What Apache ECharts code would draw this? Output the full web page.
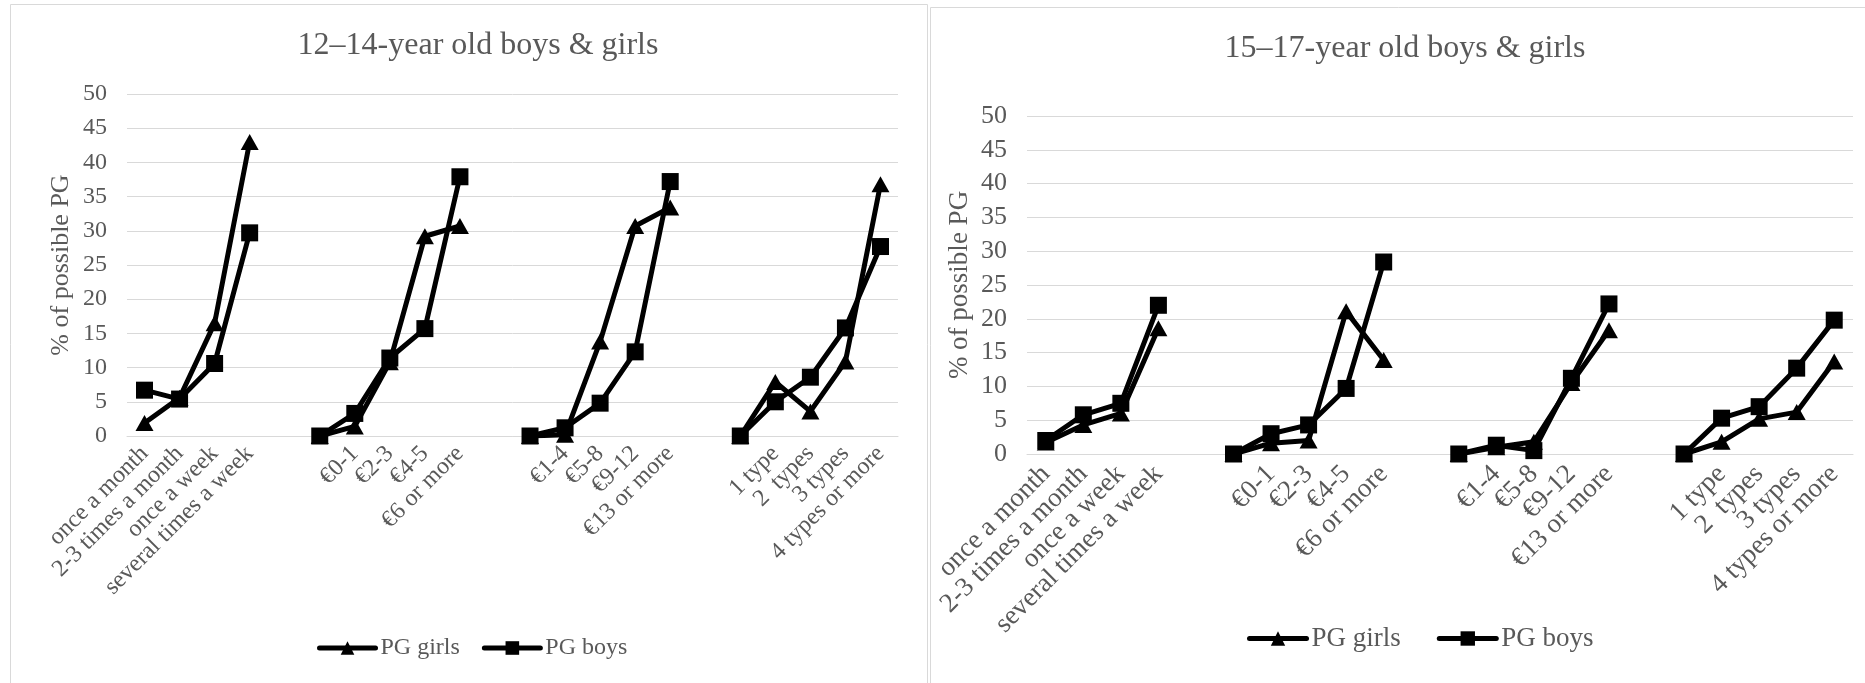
<!DOCTYPE html>
<html>
<head>
<meta charset="utf-8">
<script src="https://cdn.jsdelivr.net/npm/echarts@6/dist/echarts.min.js"></script>
<style>html,body{margin:0;padding:0;background:#fff;}#c{width:1865px;height:683px;}</style>
</head>
<body>
<div id="c"></div>
<script>
// Categories (blank entries are the gaps between groups)
const categories = ["once a month","2-3 times a month","once a week","several times a week"," ","  ","€0-1","€2-3","€4-5","€6 or more","   ","    ","€1-4","€5-8","€9-12","€13 or more","     ","      ","1 type","2  types","3 types","4 types or more"];
const yTicks = [0,5,10,15,20,25,30,35,40,45,50];
const titleLeft = "12–14-year old boys & girls";
const titleRight = "15–17-year old boys & girls";
const seriesNames = ["PG girls","PG boys"];
const girls12 = [1.9,5.6,16.5,43.0,null,0,1.4,10.8,29.2,30.7,null,0,0.2,13.8,30.7,33.4,null,0,7.9,3.6,10.9,36.8];
const boys12  = [6.7,5.4,10.6,29.7,null,0,3.3,11.4,15.7,37.9,null,0,1.2,4.8,12.3,37.2,null,0,5.0,8.6,15.8,27.7];
const girls15 = [1.7,4.3,6.0,18.6,null,0,1.6,2.0,21.1,13.9,null,0,1.0,1.8,10.5,18.3,null,0,1.8,5.2,6.2,13.7];
const boys15  = [2.0,5.8,7.5,22.0,null,0,3.0,4.3,9.7,28.4,null,0,1.3,0.5,11.2,22.2,null,0,5.3,7.0,12.7,19.8];

const FONT = "'Liberation Serif','Times New Roman',serif";
const GREY = '#595959';
const chart = echarts.init(document.getElementById('c'), null, {renderer:'canvas'});

function xAxis(gi, fs, margin){
  return {type:'category', gridIndex:gi, data:categories, boundaryGap:true,
    axisLine:{show:true, lineStyle:{color:'#d9d9d9', width:1}},
    axisTick:{show:false},
    axisLabel:{interval:0, rotate:45, fontFamily:FONT, fontSize:fs, color:GREY, margin:margin}};
}
function yAxis(gi, fs, nameFs, gap){
  return {type:'value', gridIndex:gi, min:yTicks[0], max:yTicks[yTicks.length-1], interval:yTicks[1]-yTicks[0],
    name:'% of possible PG', nameLocation:'middle', nameGap:gap,
    nameTextStyle:{fontFamily:FONT, fontSize:nameFs, color:GREY},
    axisLine:{show:false}, axisTick:{show:false},
    axisLabel:{fontFamily:FONT, fontSize:fs, color:GREY, margin:20},
    splitLine:{show:true, lineStyle:{color:'#d9d9d9', width:1}}};
}
function ser(name, data, gi, sym){
  return {name:name, type:'line', xAxisIndex:gi, yAxisIndex:gi, data:data, connectNulls:false,
    symbol:sym, symbolSize: sym==='rect'?17:[18,16], showAllSymbol:true,
    lineStyle:{color:'#000', width:5, cap:'round', join:'round'}, itemStyle:{color:'#000'}, animation:false, z:sym==='rect'?3:2};
}

chart.setOption({
  animation:false,
  graphic:[
    {type:'rect', shape:{x:10.5, y:4.5, width:917, height:720}, style:{fill:'none', stroke:'#d9d9d9', lineWidth:1}, z:-1},
    {type:'rect', shape:{x:930.5, y:7.5, width:960, height:720}, style:{fill:'none', stroke:'#d9d9d9', lineWidth:1}, z:-1}
  ],
  title:[
    {text:titleLeft, left:473, top:25, textAlign:'center', textStyle:{fontFamily:FONT, fontSize:32, fontWeight:'normal', color:GREY}},
    {text:titleRight, left:1400, top:28, textAlign:'center', textStyle:{fontFamily:FONT, fontSize:32, fontWeight:'normal', color:GREY}}
  ],
  legend:[
    {data:seriesNames, left:317, top:636, padding:0, itemWidth:56, itemHeight:17, itemGap:22,
      lineStyle:{width:5, cap:'round'},
      textStyle:{fontFamily:FONT, fontSize:24, color:GREY}},
    {data:seriesNames, left:1247, top:625, padding:0, itemWidth:57, itemHeight:18, itemGap:36,
      lineStyle:{width:5, cap:'round'},
      textStyle:{fontFamily:FONT, fontSize:27, color:GREY}}
  ],
  grid:[
    {left:127, right:967, top:94, bottom:247},
    {left:1027, right:12, top:116, bottom:229}
  ],
  xAxis:[xAxis(0,24,14), xAxis(1,27,16)],
  yAxis:[yAxis(0,24,26,53), yAxis(1,26,27,54)],
  series:[
    ser(seriesNames[0], girls12, 0, 'triangle'),
    ser(seriesNames[1], boys12, 0, 'rect'),
    ser(seriesNames[0], girls15, 1, 'triangle'),
    ser(seriesNames[1], boys15, 1, 'rect')
  ]
});
</script>
</body>
</html>
